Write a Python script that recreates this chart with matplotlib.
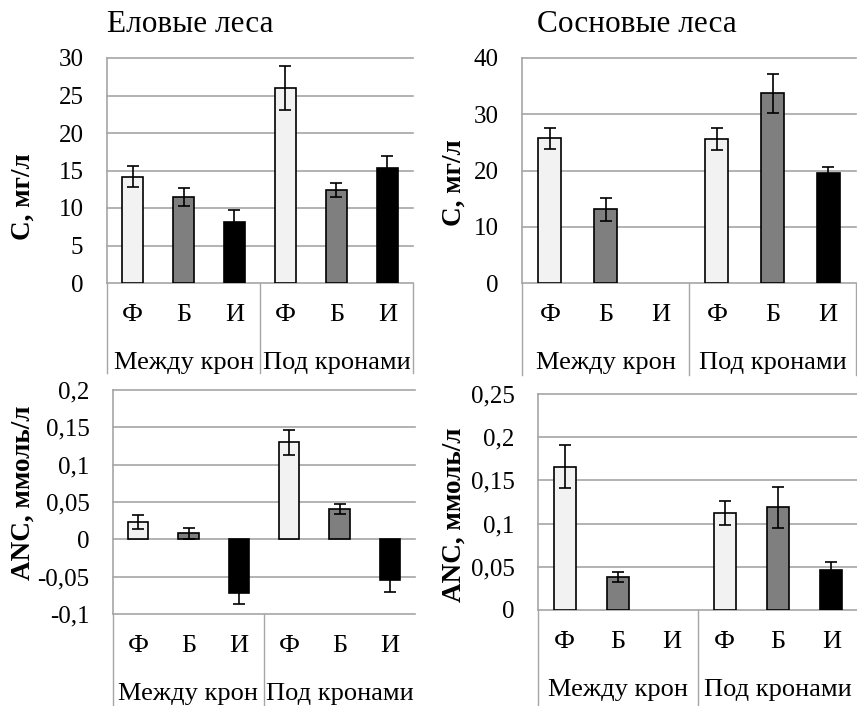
import numpy as np
import matplotlib
matplotlib.use('Agg')
import matplotlib.pyplot as plt
from matplotlib.ticker import FuncFormatter, MultipleLocator

plt.rcParams['font.family'] = ['Liberation Serif', 'DejaVu Serif']

# categories
sub_labels = ['Ф', 'Б', 'И', 'Ф', 'Б', 'И']
group_labels = ['Между крон', 'Под кронами']
titles = ['Еловые леса', 'Сосновые леса']
bar_colors = ['#f2f2f2', '#7f7f7f', '#000000'] * 2

# values
spruce_c = [14.2, 11.5, 8.1, 26.0, 12.4, 15.3]
spruce_c_err = [1.35, 1.2, 1.65, 2.95, 0.9, 1.65]
pine_c = [25.7, 13.1, np.nan, 25.6, 33.7, 19.5]
pine_c_err = [1.9, 2.0, np.nan, 2.0, 3.5, 1.1]
spruce_anc = [0.023, 0.008, -0.072, 0.130, 0.041, -0.055]
spruce_anc_err = [0.009, 0.007, 0.015, 0.017, 0.0067, 0.0156]
pine_anc = [0.166, 0.038, np.nan, 0.112, 0.119, 0.046]
pine_anc_err = [0.025, 0.0055, np.nan, 0.014, 0.0236, 0.0093]

W, H = 857, 706
GRID = '#a6a6a6'
fig = plt.figure(figsize=(W / 100, H / 100), dpi=100)


def comma_fmt(v, pos):
    s = '%g' % round(v, 4)
    return s.replace('.', ',')


def draw_panel(box, vals, errs, ylim, step, ylabel, ylab_xy, cat_depth, right_sep=True):
    x0, y0, x1, y1 = box  # pixel coords, y from top
    ax = fig.add_axes([x0 / W, 1 - y1 / H, (x1 - x0) / W, (y1 - y0) / H])
    h = y1 - y0
    x = np.arange(len(vals))
    ax.bar(x, vals, width=0.41, color=bar_colors, edgecolor='black',
           linewidth=1.2, zorder=3)
    ax.errorbar(x, vals, yerr=errs, fmt='none', ecolor='black',
                elinewidth=1.2, capsize=4.5, capthick=1.2, zorder=4)
    ax.set_xlim(-0.5, len(vals) - 0.5)
    ax.set_ylim(*ylim)
    ax.yaxis.set_major_locator(MultipleLocator(step))
    ax.yaxis.set_major_formatter(FuncFormatter(comma_fmt))
    ax.tick_params(axis='y', length=0, pad=17, labelsize=18)
    ax.set_xticks([])
    ax.grid(axis='y', color=GRID, linewidth=1.2, zorder=0)
    for gl in ax.get_ygridlines():
        gl.set_clip_on(False)
    for side in ['top', 'right', 'bottom']:
        ax.spines[side].set_visible(False)
    ax.spines['left'].set_color(GRID)
    ax.spines['left'].set_linewidth(1.2)

    # multi-level category axis
    tr = ax.get_xaxis_transform()
    seps = [-0.5, 2.5, 5.5] if right_sep else [-0.5, 2.5]
    for s in seps:
        ax.plot([s, s], [0, -cat_depth / h], transform=tr, color=GRID,
                linewidth=1.0, clip_on=False)
    for i, lab in enumerate(sub_labels):
        ax.text(i, -32 / h, lab, transform=tr, ha='center', va='center',
                fontsize=19)
    for g, lab in enumerate(group_labels):
        ax.text(g * 3 + 1, -80 / h, lab, transform=tr, ha='center',
                va='center', fontsize=19)

    fig.text(ylab_xy[0] / W, 1 - ylab_xy[1] / H, ylabel, rotation=90,
             ha='center', va='center', fontsize=19.5, fontweight='bold')
    return ax


draw_panel((107, 58, 413, 283), spruce_c, spruce_c_err, (0, 30), 5,
           'С, мг/л', (23, 197), 90)
draw_panel((522, 58, 856, 283), pine_c, pine_c_err, (0, 40), 10,
           'С, мг/л', (454, 183), 92)
draw_panel((113, 390, 415, 614), spruce_anc, spruce_anc_err, (-0.1, 0.2), 0.05,
           'ANC, ммоль/л', (23, 493), 95, right_sep=False)
draw_panel((538, 394, 858, 610), pine_anc, pine_anc_err, (0, 0.25), 0.05,
           'ANC, ммоль/л', (454, 515), 98)

fig.text(107 / W, 1 - 24 / H, titles[0], ha='left', va='center', fontsize=22.5)
fig.text(537 / W, 1 - 24 / H, titles[1], ha='left', va='center', fontsize=22.5)

fig.savefig('out.png', dpi=100)
